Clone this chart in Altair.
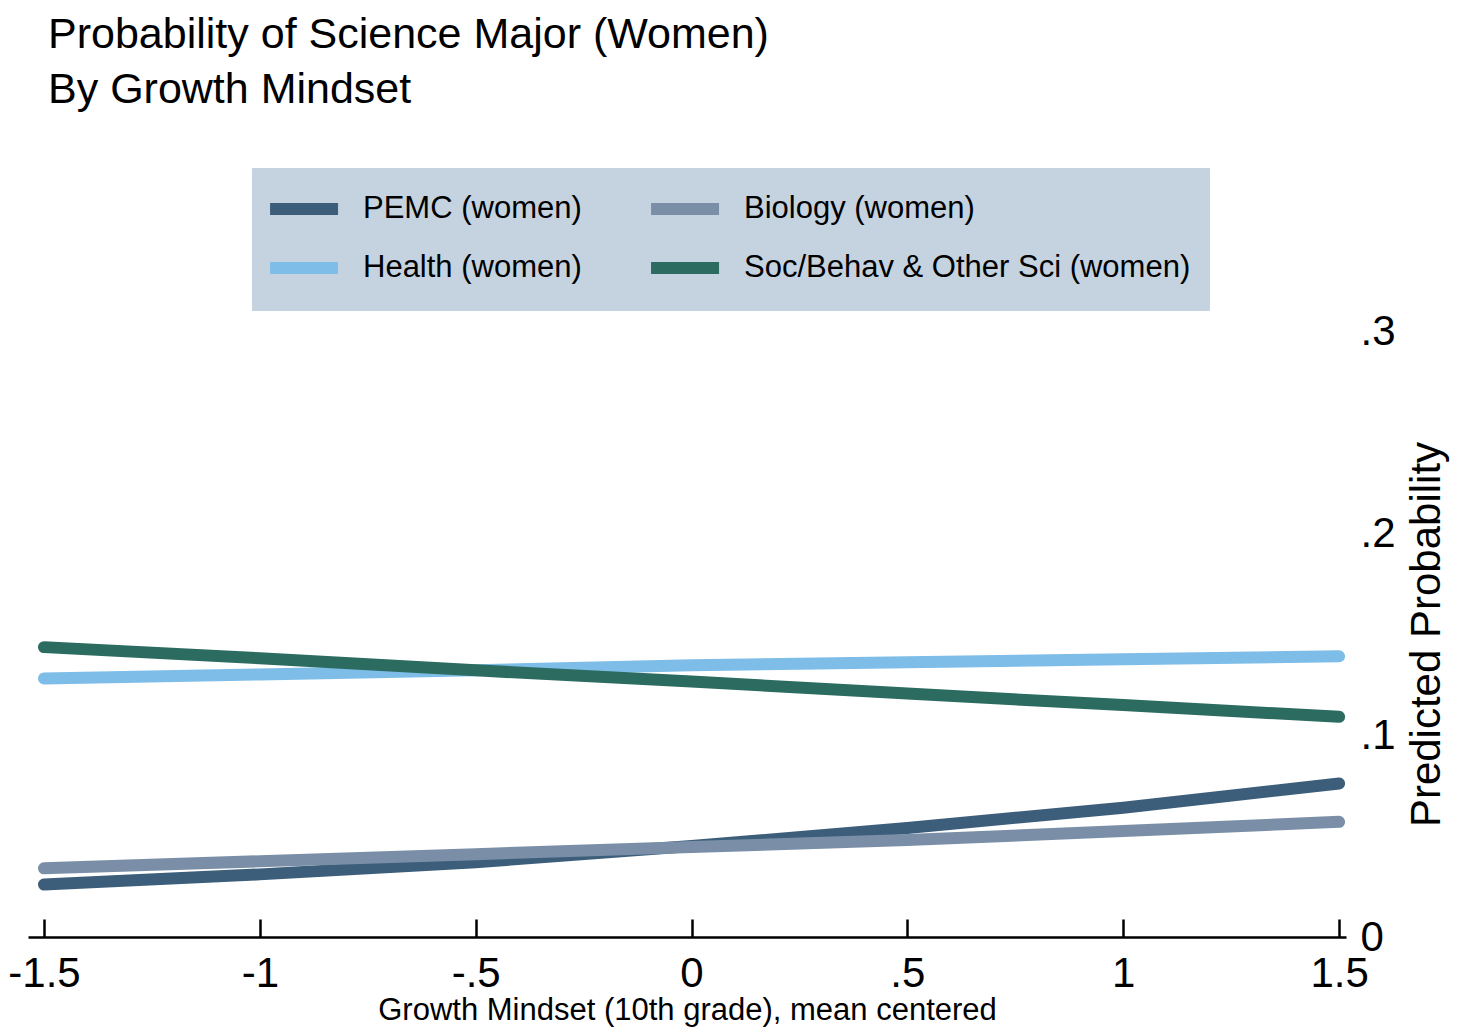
import altair as alt
import pandas as pd

# ---- data ----
x_vals = [-1.5, -1.0, -0.5, 0.0, 0.5, 1.0, 1.5]
pemc = [0.026, 0.031, 0.037, 0.045, 0.054, 0.064, 0.076]
health = [0.128, 0.130, 0.132, 0.1345, 0.136, 0.1375, 0.139]
biology = [0.034, 0.0375, 0.041, 0.0445, 0.048, 0.0525, 0.057]
soc = [0.1435, 0.138, 0.132, 0.1265, 0.1205, 0.1148, 0.109]

# legend is filled column by column: PEMC, Health | Biology, Soc
series_names = ["PEMC (women)", "Health (women)", "Biology (women)",
                "Soc/Behav & Other Sci (women)"]
series_values = [pemc, health, biology, soc]
colors = ["#3d5e7a", "#7dbde8", "#7a8fa7", "#2b6b60"]

x_ticks = [-1.5, -1.0, -0.5, 0.0, 0.5, 1.0, 1.5]
y_ticks = [0.0, 0.1, 0.2, 0.3]

title_text = "Probability of Science Major (Women)"
subtitle_text = "By Growth Mindset"
x_title = "Growth Mindset (10th grade), mean centered"
y_title = "Predicted Probability"

rows = []
for name, vals in zip(series_names, series_values):
    for xv, yv in zip(x_vals, vals):
        rows.append({"x": xv, "y": yv, "series": name})
df = pd.DataFrame(rows)

FONT = "Liberation Sans"
xscale = alt.Scale(domain=[-1.537, 1.516], nice=False, zero=False)
yscale = alt.Scale(domain=[0, 0.3], nice=False)

label_expr = ("datum.value == 0 ? '0' : "
              "replace(replace(format(datum.value, '.1~f'), '0.', '.'), '\u2212', '-')")

lines = alt.Chart(df).mark_line(strokeWidth=12, strokeCap="round", strokeJoin="round").encode(
    x=alt.X("x:Q", scale=xscale, axis=alt.Axis(
        orient="bottom", values=x_ticks, labelExpr=label_expr, domain=True,
        domainColor="black", domainWidth=2.5, ticks=False, grid=False,
        labelFontSize=42, labelPadding=16, labelColor="black", labelFont=FONT,
        labelFlush=False, labelOverlap=False,
        title=x_title, titleFontSize=31, titleFontWeight="normal", titleFont=FONT,
        titleColor="black", titlePadding=1)),
    y=alt.Y("y:Q", scale=yscale, axis=alt.Axis(
        orient="right", values=y_ticks, labelExpr=label_expr, domain=False, ticks=False,
        grid=False, labelFontSize=42, labelPadding=14, labelColor="black", labelFont=FONT,
        labelBaseline="middle", labelFlush=False, labelOverlap=False,
        title=y_title, titleAngle=270, titleBaseline="top", titleFontSize=42,
        titleFontWeight="normal", titleFont=FONT, titleColor="black", titlePadding=11)),
    color=alt.Color("series:N", sort=series_names,
                    scale=alt.Scale(domain=series_names, range=colors),
                    legend=alt.Legend(
                        title=None, orient="none", legendX=224, legendY=-163,
                        columns=2, columnPadding=45, rowPadding=11,
                        fillColor="#c5d3e0", padding=18, strokeColor="#c5d3e0",
                        symbolType="M-1.35,0L2.65,0", symbolSize=1156,
                        symbolStrokeWidth=12,
                        labelFontSize=31, labelFont=FONT, labelColor="black",
                        labelOffset=47, labelLimit=1000)),
    detail="series:N",
)

ticks_layer = alt.Chart(df).mark_line(opacity=0).encode(
    x=alt.X("x:Q", scale=xscale, axis=alt.Axis(
        orient="bottom", values=x_ticks, domain=False, labels=False, ticks=True,
        tickSize=18, tickWidth=2.5, tickColor="black", offset=-18, grid=False,
        title=None)),
    y=alt.Y("y:Q", scale=yscale, axis=None),
)

chart = alt.layer(lines, ticks_layer).resolve_axis(x="independent", y="independent").properties(
    width=1318, height=606,
    autosize=alt.AutoSizeParams(type="none"),
    padding={"left": 20, "top": 323, "right": 104, "bottom": 97},
    title=alt.Title(text=title_text, subtitle=subtitle_text, anchor="start",
                    fontSize=43, fontWeight="normal", font=FONT, color="black",
                    subtitleFontSize=43, subtitleFont=FONT, subtitleColor="black",
                    subtitlePadding=12, offset=56, dx=20, frame="group"),
    background="white",
).configure_view(stroke=None)

chart.save("out.html", embed_options={"renderer": "svg", "actions": False})
